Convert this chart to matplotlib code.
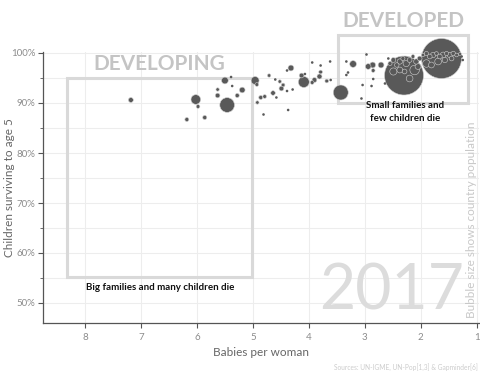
import matplotlib
matplotlib.use("Agg")
import matplotlib.pyplot as plt
import numpy as np
from matplotlib.patches import Rectangle

plt.rcParams['font.family'] = ['Lato', 'DejaVu Sans']

# babies per woman, children surviving to age 5 (%), population (millions)
fertility = [7.18, 6.02, 5.98, 6.18, 5.86, 5.46, 5.50, 5.63, 5.63, 5.39, 5.37, 5.28, 5.19,
             4.96, 4.93, 4.92, 4.86, 4.79, 4.81, 4.71, 4.64, 4.60, 4.58, 4.52, 4.49, 4.46,
             4.39, 4.37, 4.32, 4.39, 4.29, 4.13, 4.09, 4.07, 3.94, 3.94, 3.90, 3.81, 3.79,
             3.79, 3.68, 3.62, 3.61, 3.43, 3.33, 3.30, 3.33, 3.21, 3.06, 2.97, 3.04, 2.94,
             2.86, 2.88, 2.85, 2.85, 2.71, 2.64, 2.30, 1.63,
             2.55, 2.49, 2.49, 2.43, 2.375, 2.375, 2.32, 2.29, 2.26, 2.20, 2.20, 2.14, 2.11,
             2.08, 2.05, 2.02, 1.96, 1.90, 1.90, 1.84, 1.81, 1.78, 1.72, 1.69, 1.66, 1.60,
             1.57, 1.54, 1.48, 1.45, 1.42, 1.36, 1.30, 1.27, 1.25, 2.58]
survival = [90.6, 90.7, 89.3, 86.7, 87.1, 89.6, 94.5, 92.7, 91.5, 95.2, 93.4, 91.5, 92.6,
            94.5, 93.7, 90.1, 91.1, 91.3, 87.7, 95.5, 92.0, 94.7, 91.1, 94.3, 92.9, 93.6,
            92.4, 88.6, 97.0, 96.5, 92.7, 95.5, 94.2, 95.8, 98.1, 94.1, 94.6, 95.3, 96.2,
            97.5, 94.4, 98.3, 94.6, 92.1, 95.6, 96.1, 98.3, 97.8, 90.9, 99.7, 93.6, 97.3,
            97.6, 93.4, 94.8, 96.5, 97.6, 93.9, 95.5, 98.9,
            97.9, 98.6, 96.3, 97.6, 98.3, 96.6, 98.9, 96.3, 97.9, 98.6, 94.9, 99.3, 96.6,
            98.3, 97.3, 98.9, 99.6, 99.9, 97.9, 99.3, 97.6, 99.6, 99.9, 98.3, 99.3, 99.6,
            98.6, 99.9, 99.6, 98.9, 99.9, 99.6, 99.8, 99.3, 98.6, 98.9]
population = [21, 81, 12, 14, 15, 190, 40, 10, 19, 1, 1.5, 15, 28,
              55, 12, 10, 14, 12, 3, 10, 18, 2, 2, 10, 20, 12,
              6, 2, 30, 1, 1.5, 20, 105, 2, 1, 12, 20, 22, 12,
              1, 12, 1, 2, 197, 2, 2, 6, 40, 1, 4, 1, 28,
              30, 6, 2, 12, 30, 2, 1339, 1410,
              15, 20, 45, 18, 25, 30, 15, 20, 35, 20, 40, 12, 80,
              25, 30, 20, 10, 15, 50, 20, 30, 25, 12, 40, 20, 30,
              25, 15, 25, 20, 18, 12, 8, 4, 2, 6]

x_ticks = [8, 7, 6, 5, 4, 3, 2, 1]
y_ticks = [50, 60, 70, 80, 90, 100]

W, H = 481, 376
fig = plt.figure(figsize=(W / 100, H / 100), dpi=100)
ax = fig.add_axes([43 / W, 1 - 323 / H, 436 / W, (323 - 51.5) / H])
ax.set_xlim(8.75, 0.96)
ax.set_ylim(46, 100.3)

# bubble area proportional to population; India ~19.5 px radius, min radius 1.3 px
pop = np.array(population, dtype=float)
r_px = np.maximum(1.3, 19.5 * np.sqrt(pop / 1339))
sizes = (2 * r_px * 0.72) ** 2
lws = np.where(pop >= 8, 0.4, 0.0)
order = np.argsort(-pop)
ax.scatter(np.array(fertility)[order], np.array(survival)[order], s=sizes[order],
           c='#595959', edgecolors='#cfcfcf', linewidths=lws[order], zorder=3, clip_on=False)

# grid
for yv in range(50, 101, 5):
    ax.axhline(yv, color='#ededed', lw=0.8, zorder=0)
for xv in x_ticks:
    ax.axvline(xv, color='#ededed', lw=0.8, zorder=0)

ax.set_xticks(x_ticks)
ax.set_xticklabels([str(v) for v in x_ticks])
ax.set_yticks(y_ticks)
ax.set_yticklabels([f"{v}%" for v in y_ticks])
ax.set_yticks([55, 65, 75, 85, 95], minor=True)
ax.tick_params(axis='both', which='major', colors='#555555', labelcolor='#8c8c8c',
               labelsize=7, length=3.5, width=0.8)
ax.tick_params(axis='y', which='minor', colors='#555555', length=2, width=0.6)
ax.tick_params(axis='x', pad=4)
ax.tick_params(axis='y', pad=2)
for s in ['top', 'right']:
    ax.spines[s].set_visible(False)
for s in ['left', 'bottom']:
    ax.spines[s].set_color('#555555')
    ax.spines[s].set_linewidth(0.9)

ax.set_xlabel('Babies per woman', fontsize=8.5, color='#666666', labelpad=3)
ax.set_ylabel('Children surviving to age 5', fontsize=8.5, color='#666666')
ax.yaxis.set_label_coords(-0.064, 0.5)

# boxes
box_col = '#d9d9d9'
ax.add_patch(Rectangle((5.02, 55.2), 8.32 - 5.02, 95.0 - 55.2, fill=False,
                       ec=box_col, lw=2.2, zorder=1, clip_on=False))
ax.add_patch(Rectangle((1.16, 90.0), 3.48 - 1.16, 103.6 - 90.0, fill=False,
                       ec=box_col, lw=2.2, zorder=1, clip_on=False))

ax.text(6.68, 97.8, 'DEVELOPING', fontsize=15, fontweight='bold', color='#c4c4c4',
        ha='center', va='center', zorder=2, clip_on=False)
ax.text(2.32, 106.4, 'DEVELOPED', fontsize=15, fontweight='bold', color='#c4c4c4',
        ha='center', va='center', zorder=2, clip_on=False)

ax.text(6.65, 53.2, 'Big families and many children die', fontsize=7, fontweight='bold',
        color='#111111', ha='center', va='center', zorder=4)
ax.text(2.28, 88.2, 'Small families and\nfew children die', fontsize=7, fontweight='bold',
        color='#111111', ha='center', va='center', linespacing=1.45, zorder=4)

fig.text(392 / W, 1 - 291 / H, '2017', fontsize=45, color='#dcdcdc', ha='center',
         va='center', zorder=0)
fig.text(472 / W, 1 - 220 / H, 'Bubble size shows country population', fontsize=8.5,
         color='#c8c8c8', rotation=90, ha='center', va='center')
fig.text(478 / W, 1 - 367 / H, 'Sources: UN-IGME, UN-Pop[1,3] & Gapminder[6]', fontsize=4.8,
         color='#cccccc', ha='right', va='center')

fig.savefig('out.png', dpi=100)
